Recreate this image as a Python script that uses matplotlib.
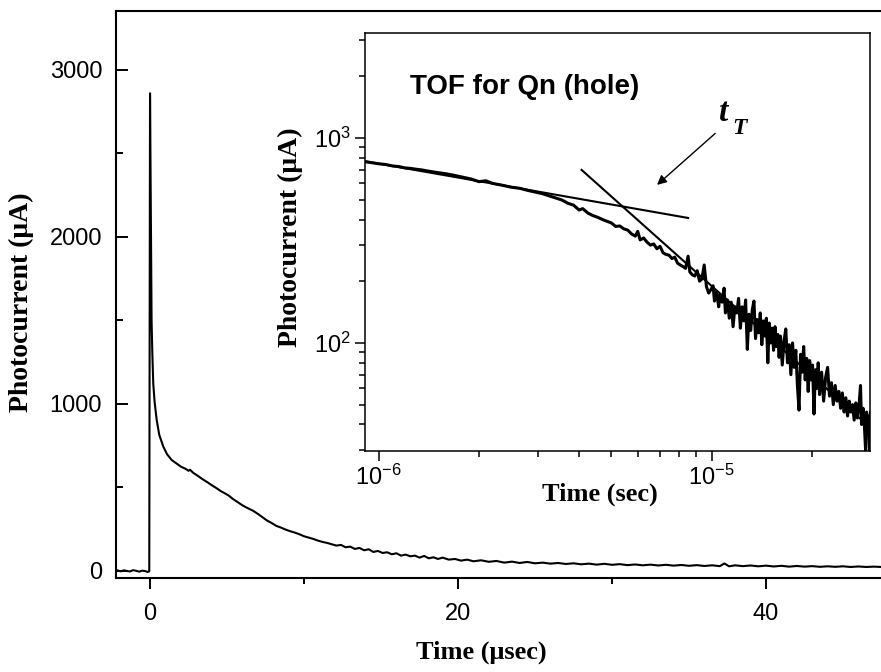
import numpy as np
import matplotlib
matplotlib.use("Agg")
import matplotlib.pyplot as plt
from matplotlib.ticker import MultipleLocator, LogLocator, FuncFormatter, NullFormatter

plt.rcParams['font.family'] = ['Liberation Sans', 'DejaVu Sans']
plt.rcParams['mathtext.fontset'] = 'custom'
plt.rcParams['mathtext.rm'] = 'Liberation Sans'
plt.rcParams['mathtext.default'] = 'rm'

# main transient, time in usec, current in uA
main_t = [-2.1, -1.9, -1.7, -1.5, -1.3, -1.1, -0.9, -0.7, -0.5, -0.3, -0.15, -0.05,
          0.0, 0.04, 0.07, 0.10, 0.15, 0.21, 0.30, 0.43, 0.60, 0.86, 1.1, 1.4, 1.7,
          2.0, 2.3, 2.5, 2.6, 2.8, 3.1, 3.4, 3.7, 4.0, 4.3, 4.6, 4.8, 5.1, 5.4, 5.7,
          6.0, 6.2, 6.4, 6.7, 7.0, 7.3, 7.6, 7.9, 8.2, 8.5, 8.8, 9.1, 9.4, 9.7, 10.0,
          10.3, 10.6, 10.9, 11.2, 11.5, 11.8, 12.1, 12.4, 12.7, 13.0, 13.3, 13.6, 13.9,
          14.2, 14.5, 14.8, 15.1, 15.4, 15.7, 16.0, 16.3, 16.6, 16.9, 17.2, 17.5, 17.8,
          18.1, 18.4, 18.7, 19.0, 19.4, 19.8, 20.2, 20.6, 21.0, 21.5, 22.0, 22.5, 23.0,
          23.5, 24.0, 24.5, 25.0, 25.5, 26.0, 26.5, 27.0, 27.5, 28.0, 28.5, 29.0, 29.5,
          30.0, 30.5, 31.0, 31.5, 32.0, 32.5, 33.0, 33.5, 34.0, 34.5, 35.0, 35.5, 36.0,
          36.5, 37.0, 37.3, 37.6, 38.0, 38.5, 39.0, 39.5, 40.0, 40.5, 41.0, 41.5, 42.0,
          42.5, 43.0, 43.5, 44.0, 44.5, 45.0, 45.5, 46.0, 46.5, 47.0, 47.5]
main_i = [3, -2, 4, 0, -3, 5, 1, -4, 2, -1, -6, -2,
          2860, 2300, 1800, 1500, 1300, 1120, 1010, 905, 815, 745, 700, 665, 645,
          625, 612, 600, 606, 588, 570, 550, 533, 514, 497, 478, 468, 452, 430, 412,
          393, 383, 374, 360, 342, 322, 302, 287, 270, 260, 248, 238, 230, 220, 208,
          200, 192, 182, 174, 168, 160, 152, 156, 142, 146, 132, 138, 124,
          130, 114, 120, 108, 112, 100, 106, 92, 98, 88, 92, 80, 90,
          76, 82, 72, 80, 68, 72, 62, 68, 58, 64, 55, 60, 50,
          56, 48, 54, 46, 50, 44, 48, 42, 46, 40, 44, 38, 43,
          37, 41, 35, 39, 34, 38, 33, 37, 32, 36, 31, 35, 30,
          34, 29, 45, 28, 34, 29, 33, 28, 32, 27, 31, 26, 30,
          26, 29, 25, 28, 25, 28, 24, 27, 24, 26, 24]

# inset (log-log), time in usec, current in uA
inset_t = [0.91, 0.95, 1.00, 1.05, 1.10, 1.15, 1.20, 1.25, 1.30, 1.35, 1.40, 1.50, 1.60,
           1.70, 1.80, 1.90, 2.00, 2.10, 2.20, 2.35, 2.50, 2.65, 2.80, 2.95, 3.10, 3.25,
           3.40, 3.55, 3.70, 3.85, 4.00, 4.10, 4.25, 4.40, 4.55, 4.70, 4.85, 5.00, 5.15,
           5.30, 5.45, 5.60, 5.75, 5.90, 6.00, 6.10, 6.25, 6.40, 6.55, 6.70, 6.85, 7.00,
           7.15, 7.30, 7.45, 7.60, 7.75, 7.90, 8.05, 8.20, 8.35, 8.50, 8.60, 8.75, 8.90,
           9.05, 9.20, 9.35, 9.50, 9.65, 9.80, 9.95,
           10.1, 10.2, 10.35, 10.5, 10.6, 10.75, 10.9, 11.0, 11.15, 11.3, 11.45, 11.6,
           11.75, 11.9, 12.05, 12.2, 12.35, 12.5, 12.65, 12.8, 12.95, 13.1, 13.25, 13.4,
           13.55, 13.7, 13.85, 14.0, 14.15, 14.3, 14.45, 14.6, 14.75, 14.9, 15.05, 15.2,
           15.35, 15.5, 15.65, 15.8, 15.95, 16.1, 16.3, 16.5, 16.7, 16.9, 17.1, 17.3,
           17.5, 17.7, 17.9, 18.1, 18.3, 18.5, 18.7, 18.9, 19.1, 19.3, 19.5, 19.7, 19.9,
           20.1, 20.3, 20.5, 20.7, 20.9, 21.1, 21.4, 21.7, 22.0, 22.3, 22.6, 22.9, 23.2,
           23.5, 23.8, 24.1, 24.4, 24.7, 25.0, 25.3, 25.6, 25.9, 26.2, 26.5, 26.8, 27.1,
           27.4, 27.7, 28.0, 28.2, 28.5, 28.8, 29.0, 29.2, 29.4, 29.6, 29.8, 29.9, 30.0]
inset_i = [765, 758, 748, 742, 730, 725, 714, 710, 703, 698, 690, 678, 668,
           655, 642, 630, 612, 618, 600, 588, 575, 568, 555, 545, 535, 522,
           510, 498, 480, 470, 445, 452, 430, 418, 410, 400, 392, 385, 370,
           372, 360, 355, 340, 332, 350, 318, 325, 310, 300, 304, 288, 296,
           275, 270, 268, 258, 262, 245, 240, 236, 231, 265, 222, 215, 212,
           225, 200, 205, 240, 188, 175, 182,
           190, 160, 178, 150, 172, 158, 185, 140, 162, 132, 158, 120,
           150, 140, 165, 118, 150, 128, 162, 93, 138, 115, 145, 160,
           105, 130, 112, 140, 98, 128, 108, 132, 80, 125, 100, 118,
           92, 120, 96, 110, 85, 108, 78, 102, 117, 80, 98, 70,
           100, 76, 92, 62, 47, 88, 72, 96, 66, 84, 58, 82, 66,
           78, 45, 74, 60, 80, 56, 72, 52, 68, 76, 55, 64, 50,
           62, 52, 58, 48, 57, 46, 54, 44, 52, 46, 50, 42, 51,
           43, 49, 62, 40, 48, 38, 30, 46, 36, 44, 28, 40, 46]

# the two straight-line fits, (sec, uA)
fit1_t = [9.1e-7, 8.5e-6]
fit1_i = [770, 407]
fit2_t = [4.07e-6, 2.8e-5]
fit2_i = [698, 42.6]

W, H = 881, 672
fig = plt.figure(figsize=(W / 100, H / 100), dpi=100)

# main axes (right edge runs past the figure like in the scan)
ax = fig.add_axes([116 / W, (H - 578) / H, (920 - 116) / W, (578 - 11) / H])
ax.plot(main_t, main_i, color='k', lw=1.5)
ax.set_xlim(-2.21, 50)
ax.set_ylim(-42, 3353)
ax.xaxis.set_major_locator(MultipleLocator(20))
ax.xaxis.set_minor_locator(MultipleLocator(10))
ax.yaxis.set_major_locator(MultipleLocator(1000))
ax.yaxis.set_minor_locator(MultipleLocator(500))
ax.tick_params(axis='x', which='major', direction='out', length=8, width=1.4, pad=10, labelsize=17)
ax.tick_params(axis='x', which='minor', direction='out', length=4.5, width=1.4)
ax.tick_params(axis='y', which='major', direction='in', length=8.5, width=1.4, pad=10, labelsize=17)
ax.tick_params(axis='y', which='minor', direction='in', length=5, width=1.4)
for s in ax.spines.values():
    s.set_linewidth(1.5)
ax.set_xlabel('Time (\u03bcsec)', fontfamily='Liberation Serif', fontweight='bold', fontsize=19)
ax.set_ylabel('Photocurrent (\u03bcA)', fontfamily='Liberation Serif', fontweight='bold', fontsize=20)
ax.xaxis.set_label_coords((481 - 116) / 804, (578 - 641) / 567)
ax.yaxis.set_label_coords((34 - 116) / 804, (578 - 302) / 567)

# inset, log-log
ax2 = fig.add_axes([365 / W, (H - 451) / H, (870 - 365) / W, (451 - 33) / H])
ax2.plot(np.array(inset_t) * 1e-6, inset_i, color='k', lw=2.2)
ax2.plot(fit1_t, fit1_i, color='k', lw=1.5)
ax2.plot(fit2_t, fit2_i, color='k', lw=1.5)
ax2.set_xscale('log')
ax2.set_yscale('log')
ax2.set_xlim(9.1e-7, 2.99e-5)
ax2.set_ylim(29.7, 3250)
sci = FuncFormatter(lambda v, p: r'$10^{%d}$' % int(round(np.log10(v))))
ax2.xaxis.set_major_locator(LogLocator(base=10))
ax2.yaxis.set_major_locator(LogLocator(base=10))
ax2.xaxis.set_major_formatter(sci)
ax2.yaxis.set_major_formatter(sci)
ax2.xaxis.set_minor_locator(LogLocator(base=10, subs=np.arange(2, 10)))
ax2.yaxis.set_minor_locator(LogLocator(base=10, subs=np.arange(2, 10)))
ax2.xaxis.set_minor_formatter(NullFormatter())
ax2.yaxis.set_minor_formatter(NullFormatter())
ax2.tick_params(which='major', direction='out', length=7, width=1.1, pad=3, labelsize=17)
ax2.tick_params(which='minor', direction='out', length=4, width=1.1)
for s in ax2.spines.values():
    s.set_linewidth(1.1)
ax2.set_xlabel('Time (sec)', fontfamily='Liberation Serif', fontweight='bold', fontsize=19)
ax2.set_ylabel('Photocurrent (\u03bcA)', fontfamily='Liberation Serif', fontweight='bold', fontsize=20)
ax2.xaxis.set_label_coords((600 - 365) / 505, (451 - 483) / 418)
ax2.yaxis.set_label_coords((303 - 365) / 505, (451 - 237) / 418)

ax2.text((410 - 365) / 505, (451 - 94) / 418, 'TOF for Qn (hole)', transform=ax2.transAxes,
         fontsize=20, fontweight='bold', ha='left', va='baseline')
ax2.text((719 - 365) / 505, (451 - 121) / 418, 't', transform=ax2.transAxes,
         fontfamily='Liberation Serif', fontweight='bold', fontstyle='italic',
         fontsize=24, ha='left', va='baseline')
ax2.text((732 - 365) / 505, (451 - 134) / 418, 'T', transform=ax2.transAxes,
         fontfamily='Liberation Serif', fontweight='bold', fontstyle='italic',
         fontsize=17, ha='left', va='baseline')
ax2.annotate('', xy=(6.76e-6, 578), xytext=(1.04e-5, 1074),
             arrowprops=dict(arrowstyle='-|>', color='k', lw=1.0, mutation_scale=14))

fig.savefig('out.png', dpi=100)
